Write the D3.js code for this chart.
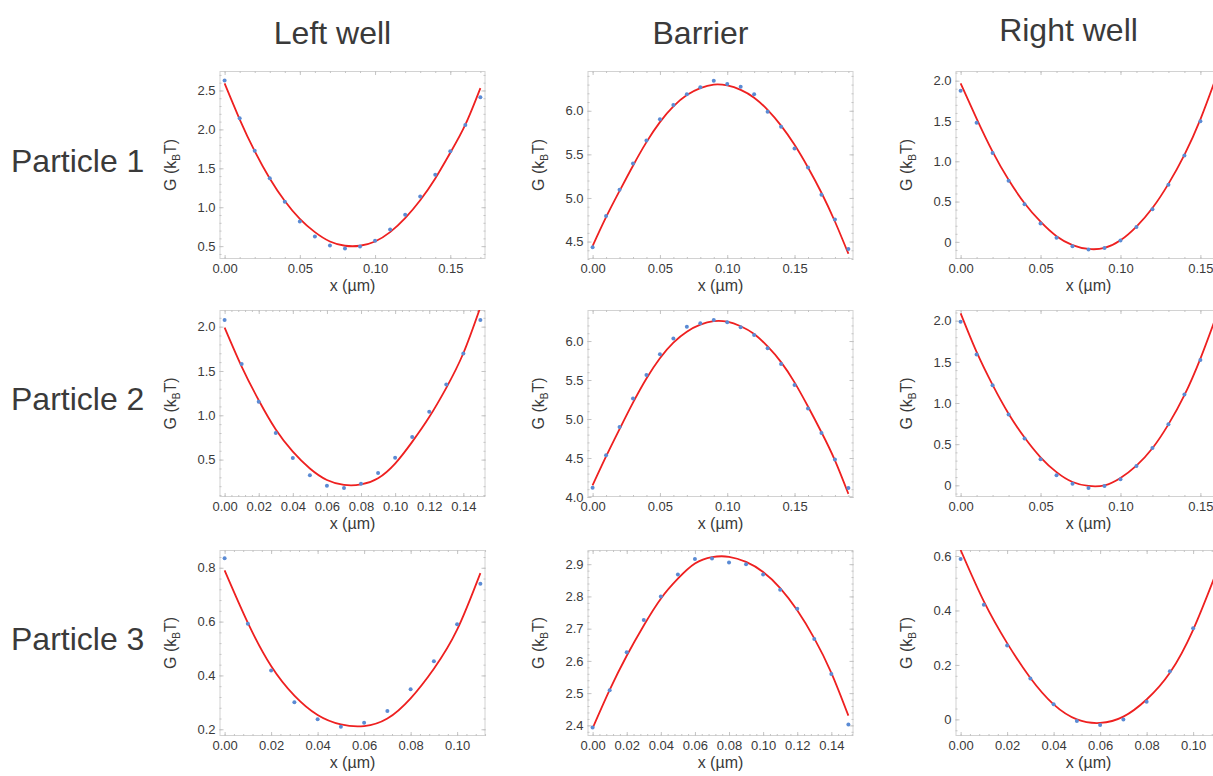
<!DOCTYPE html>
<html>
<head>
<meta charset="utf-8">
<script src="https://cdn.jsdelivr.net/npm/d3@7"></script>
<style>
  html, body { margin: 0; padding: 0; background: #ffffff; }
  svg { display: block; font-family: "Liberation Sans", Arial, sans-serif; }
</style>
</head>
<body>
<svg id="chart" width="1213" height="776"></svg>
<script>
// ---- Labels ----
const columnTitles = ["Left well", "Barrier", "Right well"];
const rowTitles = ["Particle 1", "Particle 2", "Particle 3"];

// ---- Sampled positions (µm) ----
const xs019 = [0, 0.01, 0.02, 0.03, 0.04, 0.05, 0.06, 0.07, 0.08, 0.09, 0.10, 0.11, 0.12, 0.13, 0.14, 0.15, 0.16, 0.17, 0.18, 0.19];
const xs017 = [0, 0.01, 0.02, 0.03, 0.04, 0.05, 0.06, 0.07, 0.08, 0.09, 0.10, 0.11, 0.12, 0.13, 0.14, 0.15, 0.16, 0.17];
const xs016 = [0, 0.01, 0.02, 0.03, 0.04, 0.05, 0.06, 0.07, 0.08, 0.09, 0.10, 0.11, 0.12, 0.13, 0.14, 0.15, 0.16];
const xs015 = [0, 0.01, 0.02, 0.03, 0.04, 0.05, 0.06, 0.07, 0.08, 0.09, 0.10, 0.11, 0.12, 0.13, 0.14, 0.15];
const xs011 = [0, 0.01, 0.02, 0.03, 0.04, 0.05, 0.06, 0.07, 0.08, 0.09, 0.10, 0.11];

// ---- Free energy G (kBT): measured points and fitted curves ----
// Particle 1
const leftWell1 = [2.627, 2.143, 1.724, 1.373, 1.070, 0.818, 0.625, 0.509, 0.470, 0.497, 0.569, 0.715, 0.903, 1.138, 1.416, 1.720, 2.057, 2.412];
const leftWell1Fit = [2.59, 2.13, 1.72, 1.37, 1.08, 0.85, 0.68, 0.56, 0.505, 0.505, 0.56, 0.68, 0.86, 1.09, 1.37, 1.70, 2.06, 2.53];
const barrier1 = [4.435, 4.792, 5.095, 5.394, 5.659, 5.904, 6.065, 6.188, 6.269, 6.345, 6.307, 6.276, 6.188, 5.988, 5.816, 5.567, 5.348, 5.037, 4.753, 4.416];
const barrier1Fit = [4.45, 4.78, 5.08, 5.37, 5.64, 5.87, 6.05, 6.18, 6.26, 6.30, 6.29, 6.24, 6.15, 6.01, 5.83, 5.61, 5.35, 5.06, 4.73, 4.36];
const rightWell1 = [1.875, 1.479, 1.104, 0.758, 0.467, 0.229, 0.050, -0.054, -0.096, -0.075, 0.017, 0.183, 0.404, 0.708, 1.071, 1.496, 1.98];
const rightWell1Fit = [1.967, 1.53, 1.12, 0.77, 0.48, 0.25, 0.07, -0.04, -0.088, -0.075, 0.02, 0.19, 0.42, 0.72, 1.08, 1.52, 2.05];
// Particle 2
const leftWell2 = [2.075, 1.578, 1.152, 0.801, 0.519, 0.323, 0.206, 0.179, 0.228, 0.349, 0.522, 0.756, 1.039, 1.348, 1.698, 2.075];
const leftWell2Fit = [1.99, 1.55, 1.17, 0.84, 0.59, 0.40, 0.27, 0.215, 0.22, 0.29, 0.455, 0.70, 0.98, 1.31, 1.70, 2.22];
const barrier2 = [4.120, 4.535, 4.899, 5.263, 5.563, 5.829, 6.034, 6.184, 6.227, 6.270, 6.240, 6.176, 6.077, 5.906, 5.704, 5.435, 5.135, 4.822, 4.480, 4.116];
const barrier2Fit = [4.15, 4.52, 4.87, 5.21, 5.52, 5.78, 5.98, 6.12, 6.21, 6.255, 6.248, 6.19, 6.09, 5.93, 5.73, 5.47, 5.16, 4.83, 4.47, 4.04];
const rightWell2 = [1.988, 1.590, 1.217, 0.860, 0.568, 0.316, 0.122, 0.020, -0.032, -0.008, 0.073, 0.235, 0.454, 0.742, 1.103, 1.521, 1.99];
const rightWell2Fit = [2.09, 1.62, 1.22, 0.87, 0.58, 0.34, 0.16, 0.04, -0.008, 0.0, 0.09, 0.24, 0.45, 0.74, 1.095, 1.54, 2.06];
// Particle 3
const leftWell3 = [0.835, 0.592, 0.418, 0.300, 0.237, 0.209, 0.224, 0.268, 0.349, 0.453, 0.590, 0.741];
const leftWell3Fit = [0.79, 0.595, 0.435, 0.325, 0.253, 0.218, 0.212, 0.24, 0.315, 0.425, 0.57, 0.78];
const barrier3 = [2.393, 2.509, 2.627, 2.727, 2.800, 2.868, 2.916, 2.918, 2.905, 2.900, 2.868, 2.821, 2.762, 2.668, 2.559, 2.403];
const barrier3Fit = [2.391, 2.51, 2.616, 2.71, 2.793, 2.855, 2.902, 2.922, 2.923, 2.907, 2.876, 2.826, 2.757, 2.67, 2.563, 2.43];
const rightWell3 = [0.589, 0.421, 0.271, 0.150, 0.056, -0.006, -0.021, 0.000, 0.065, 0.177, 0.335, 0.50];
const rightWell3Fit = [0.622, 0.433, 0.28, 0.152, 0.055, 0.0, -0.013, 0.01, 0.073, 0.171, 0.329, 0.54];

// ---- Axis ranges and tick values ----
const xRange019 = [-0.0038, 0.1938];
const xRange017 = [-0.0034, 0.1734];
const xRange016 = [-0.0032, 0.1632];
const xRange015 = [-0.003, 0.153];
const xRange011 = [-0.0022, 0.1122];

const xTicks005 = [0, 0.05, 0.10, 0.15];
const xTicks002a = [0, 0.02, 0.04, 0.06, 0.08, 0.10, 0.12, 0.14];
const xTicks002b = [0, 0.02, 0.04, 0.06, 0.08, 0.10];

const yTicksLeft1 = [0.5, 1.0, 1.5, 2.0, 2.5];
const yTicksBarrier1 = [4.5, 5.0, 5.5, 6.0];
const yTicksRight1 = [0, 0.5, 1.0, 1.5, 2.0];
const yTicksLeft2 = [0.5, 1.0, 1.5, 2.0];
const yTicksBarrier2 = [4.0, 4.5, 5.0, 5.5, 6.0];
const yTicksRight2 = [0, 0.5, 1.0, 1.5, 2.0];
const yTicksLeft3 = [0.2, 0.4, 0.6, 0.8];
const yTicksBarrier3 = [2.4, 2.5, 2.6, 2.7, 2.8, 2.9];
const yTicksRight3 = [0, 0.2, 0.4, 0.6];

// ---- Panel definitions ----
const panels = [
  { row: 0, col: 0, xs: xs017, g: leftWell1,  fit: leftWell1Fit,  xr: xRange017, yr: [0.335, 2.75],   xt: xTicks005,  yt: yTicksLeft1 },
  { row: 0, col: 1, xs: xs019, g: barrier1,   fit: barrier1Fit,   xr: xRange019, yr: [4.30, 6.456],   xt: xTicks005,  yt: yTicksBarrier1 },
  { row: 0, col: 2, xs: xs016, g: rightWell1, fit: rightWell1Fit, xr: xRange016, yr: [-0.2125, 2.12], xt: xTicks005,  yt: yTicksRight1 },
  { row: 1, col: 0, xs: xs015, g: leftWell2,  fit: leftWell2Fit,  xr: xRange015, yr: [0.078, 2.188],  xt: xTicks002a, yt: yTicksLeft2 },
  { row: 1, col: 1, xs: xs019, g: barrier2,   fit: barrier2Fit,   xr: xRange019, yr: [4.0, 6.398],    xt: xTicks005,  yt: yTicksBarrier2 },
  { row: 1, col: 2, xs: xs016, g: rightWell2, fit: rightWell2Fit, xr: xRange016, yr: [-0.142, 2.13],  xt: xTicks005,  yt: yTicksRight2 },
  { row: 2, col: 0, xs: xs011, g: leftWell3,  fit: leftWell3Fit,  xr: xRange011, yr: [0.175, 0.866],  xt: xTicks002b, yt: yTicksLeft3 },
  { row: 2, col: 1, xs: xs015, g: barrier3,   fit: barrier3Fit,   xr: xRange015, yr: [2.367, 2.944],  xt: xTicks002a, yt: yTicksBarrier3 },
  { row: 2, col: 2, xs: xs011, g: rightWell3, fit: rightWell3Fit, xr: xRange011, yr: [-0.061, 0.622], xt: xTicks002b, yt: yTicksRight3 }
];

// ---- Layout ----
const colLeft = [219.5, 587.5, 955.5];
const frameW = 266;
const rowTop = [71, 310, 550];
const rowH = [188, 187, 186];

const TEXT = "#3a3a3a";
const FRAME = "#d2d2d2";
const TICK = "#c4c4c4";
const DOT = "#5b8bd4";
const LINE = "#ee2020";

const svg = d3.select("#chart");
const defs = svg.append("defs");

const fmtX = d3.format(".2f");
const fmtY = v => (v === 0 ? "0" : d3.format(".1f")(v));

// Minor tick positions: five subdivisions per major step across the full range
function minorTicks(major, range) {
  const step = (major[1] - major[0]) / 5;
  const out = [];
  const i0 = Math.ceil((range[0] - 1e-9) / step);
  const i1 = Math.floor((range[1] + 1e-9) / step);
  for (let i = i0; i <= i1; i++) out.push(+(i * step).toFixed(6));
  return out;
}

function styleAxis(sel) {
  sel.select(".domain").remove();
  sel.selectAll(".tick line").attr("stroke", TICK).attr("stroke-width", 1);
  sel.selectAll(".tick text").attr("fill", TEXT).attr("font-size", 13)
     .attr("font-family", "'Liberation Sans', Arial, sans-serif");
}

function drawPanel(p, idx) {
  const left = colLeft[p.col];
  const top = rowTop[p.row];
  const h = rowH[p.row];
  const w = frameW;

  const x = d3.scaleLinear().domain(p.xr).range([left, left + w]);
  const y = d3.scaleLinear().domain(p.yr).range([top + h, top]);

  const clipId = "clip-" + idx;
  defs.append("clipPath").attr("id", clipId)
    .append("rect").attr("x", left).attr("y", top).attr("width", w).attr("height", h);

  const g = svg.append("g");

  // frame
  g.append("rect")
    .attr("x", left + 0.5).attr("y", top + 0.5)
    .attr("width", w - 1).attr("height", h - 1)
    .attr("fill", "none").attr("stroke", FRAME).attr("stroke-width", 1);

  const xMinor = minorTicks(p.xt, p.xr);
  const yMinor = minorTicks(p.yt, p.yr);

  // bottom axis with labels
  g.append("g").attr("transform", `translate(0,${top + h})`)
    .call(d3.axisBottom(x).tickValues(xMinor).tickFormat("").tickSizeInner(-2).tickSizeOuter(0))
    .call(styleAxis);
  g.append("g").attr("transform", `translate(0,${top + h})`)
    .call(d3.axisBottom(x).tickValues(p.xt).tickFormat(fmtX).tickSizeInner(-4).tickSizeOuter(0).tickPadding(5))
    .call(styleAxis);
  // top axis (ticks only)
  g.append("g").attr("transform", `translate(0,${top})`)
    .call(d3.axisTop(x).tickValues(xMinor).tickFormat("").tickSizeInner(-2).tickSizeOuter(0))
    .call(styleAxis);
  g.append("g").attr("transform", `translate(0,${top})`)
    .call(d3.axisTop(x).tickValues(p.xt).tickFormat("").tickSizeInner(-4).tickSizeOuter(0))
    .call(styleAxis);
  // left axis with labels
  g.append("g").attr("transform", `translate(${left},0)`)
    .call(d3.axisLeft(y).tickValues(yMinor).tickFormat("").tickSizeInner(-2).tickSizeOuter(0))
    .call(styleAxis);
  g.append("g").attr("transform", `translate(${left},0)`)
    .call(d3.axisLeft(y).tickValues(p.yt).tickFormat(fmtY).tickSizeInner(-4).tickSizeOuter(0).tickPadding(4))
    .call(styleAxis);
  // right axis (ticks only)
  g.append("g").attr("transform", `translate(${left + w},0)`)
    .call(d3.axisRight(y).tickValues(yMinor).tickFormat("").tickSizeInner(-2).tickSizeOuter(0))
    .call(styleAxis);
  g.append("g").attr("transform", `translate(${left + w},0)`)
    .call(d3.axisRight(y).tickValues(p.yt).tickFormat("").tickSizeInner(-4).tickSizeOuter(0))
    .call(styleAxis);

  // axis titles
  g.append("text")
    .attr("x", left + w / 2).attr("y", top + h + 31.5)
    .attr("text-anchor", "middle").attr("font-size", 16).attr("fill", TEXT)
    .text("x (\u00B5m)");

  const yl = g.append("text")
    .attr("transform", `translate(${left - 44},${top + h / 2}) rotate(-90)`)
    .attr("text-anchor", "middle").attr("font-size", 16).attr("fill", TEXT);
  yl.append("tspan").text("G (k");
  yl.append("tspan").attr("font-size", 10).attr("dy", 4).text("B");
  yl.append("tspan").attr("dy", -4).text("T)");

  // data and fit, clipped to the frame
  const plot = g.append("g").attr("clip-path", `url(#${clipId})`);

  const fitPts = p.xs.map((xv, i) => [xv, p.fit[i]]);
  plot.append("path")
    .datum(fitPts)
    .attr("fill", "none").attr("stroke", LINE).attr("stroke-width", 1.8)
    .attr("d", d3.line().x(d => x(d[0])).y(d => y(d[1])).curve(d3.curveNatural));

  plot.selectAll("circle.pt")
    .data(p.xs.map((xv, i) => [xv, p.g[i]]))
    .join("circle").attr("class", "pt")
    .attr("cx", d => x(d[0])).attr("cy", d => y(d[1]))
    .attr("r", 2).attr("fill", DOT);
}

panels.forEach(drawPanel);

// column headings
columnTitles.forEach((t, i) => {
  svg.append("text")
    .attr("x", colLeft[i] + frameW / 2 - 20)
    .attr("y", i === 2 ? 41 : 44)
    .attr("text-anchor", "middle").attr("font-size", 32).attr("fill", TEXT)
    .text(t);
});

// row headings
rowTitles.forEach((t, i) => {
  svg.append("text")
    .attr("x", 11)
    .attr("y", rowTop[i] + rowH[i] / 2 + 6.5)
    .attr("font-size", 32).attr("fill", TEXT)
    .text(t);
});
</script>
</body>
</html>
